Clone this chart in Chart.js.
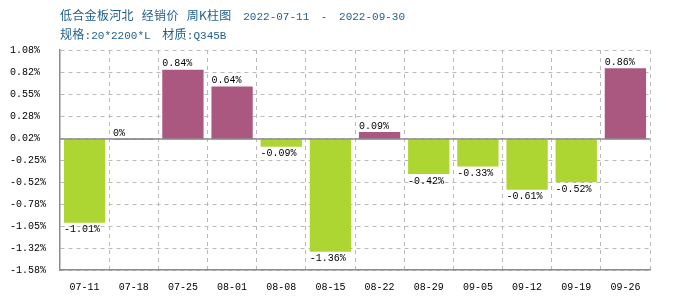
<!DOCTYPE html>
<html>
<head>
<meta charset="utf-8">
<script src="https://cdn.jsdelivr.net/npm/chart.js@4/dist/chart.umd.min.js"></script>
<style>
    body { margin: 0; background: #fff; }
    #wrap { position: relative; width: 700px; height: 300px; }
    .title-line {
        position: absolute;
        left: 60px;
        color: #1f5e8e;
        font-family: "Liberation Mono", "Noto Sans CJK SC", monospace;
        font-size: 11px;
        white-space: nowrap;
        word-spacing: 5px;
    }
    .title-line .cn { font-family: "Noto Sans CJK SC", sans-serif; font-size: 12px; letter-spacing: 0.3px; }
</style>
</head>
<body>
<div id="wrap">
    <div class="title-line" style="top:6px;"><span class="cn">低合金板河北 经销价 周K柱图</span> 2022-07-11 - 2022-09-30</div>
    <div class="title-line" style="top:25px;"><span class="cn">规格</span>:20*2200*L <span class="cn">材质</span>:Q345B</div>
    <canvas id="weekly-chart" width="700" height="300"></canvas>
</div>
<script>
const weeks = ['07-11', '07-18', '07-25', '08-01', '08-08', '08-15', '08-22', '08-29', '09-05', '09-12', '09-19', '09-26'];
const changes = [-1.01, 0, 0.84, 0.64, -0.09, -1.36, 0.09, -0.42, -0.33, -0.61, -0.52, 0.86];
const tickLabels = ['1.08%', '0.82%', '0.55%', '0.28%', '0.02%', '-0.25%', '-0.52%', '-0.78%', '-1.05%', '-1.32%', '-1.58%'];
const yMax = 1.08;
const yMin = -1.58;

const upColor = '#ab5881';
const downColor = '#add633';
const gridColor = '#bababa';
const axisColor = '#8c8c8c';
const monoFont = { family: '"Liberation Mono", monospace', size: 10 };

// zero line + value labels
const labelPlugin = {
    id: 'valueLabels',
    afterDatasetsDraw(chart) {
        const ctx = chart.ctx;
        const area = chart.chartArea;
        const y0 = Math.round(chart.scales.y.getPixelForValue(0));
        ctx.save();
        ctx.strokeStyle = axisColor;
        ctx.lineWidth = 1.5;
        ctx.beginPath();
        ctx.moveTo(area.left, y0);
        ctx.lineTo(area.right, y0);
        ctx.stroke();

        ctx.font = '10px "Liberation Mono", monospace';
        ctx.fillStyle = '#000';
        const meta = chart.getDatasetMeta(0);
        meta.data.forEach((bar, i) => {
            const v = changes[i];
            const left = bar.x - bar.width / 2;
            if (v >= 0) {
                ctx.textBaseline = 'bottom';
                ctx.fillText(v + '%', left, bar.y - 1);
            } else {
                ctx.textBaseline = 'top';
                ctx.fillText(v + '%', left, bar.y + 2);
            }
        });
        ctx.restore();
    }
};

new Chart(document.getElementById('weekly-chart'), {
    type: 'bar',
    data: {
        labels: weeks,
        datasets: [{
            data: changes,
            backgroundColor: changes.map(v => v >= 0 ? upColor : downColor),
            minBarLength: 1,
            barPercentage: 0.84,
            categoryPercentage: 1
        }]
    },
    options: {
        responsive: false,
        animation: false,
        layout: { padding: { left: 10, right: 50, top: 50, bottom: 4 } },
        plugins: {
            legend: { display: false },
            tooltip: { enabled: false }
        },
        scales: {
            x: {
                grid: {
                    offset: true,
                    color: gridColor,
                    drawTicks: false
                },
                border: { color: axisColor, width: 1.5, dash: [4, 4] },
                ticks: { color: '#000', font: monoFont, padding: 11, maxRotation: 0 },
                afterFit: scale => { scale.height = 26; }
            },
            y: {
                min: yMin,
                max: yMax,
                grid: { color: gridColor, drawTicks: false },
                border: { color: axisColor, width: 1.5, dash: [4, 4] },
                afterBuildTicks: scale => {
                    const step = (yMax - yMin) / (tickLabels.length - 1);
                    scale.ticks = tickLabels.map((_, i) => ({ value: yMax - i * step }));
                },
                ticks: {
                    color: '#000',
                    font: monoFont,
                    crossAlign: 'far',
                    callback: (value, index) => tickLabels[index]
                },
                afterFit: scale => { scale.width = 50; }
            }
        }
    },
    plugins: [labelPlugin]
});
</script>
</body>
</html>
